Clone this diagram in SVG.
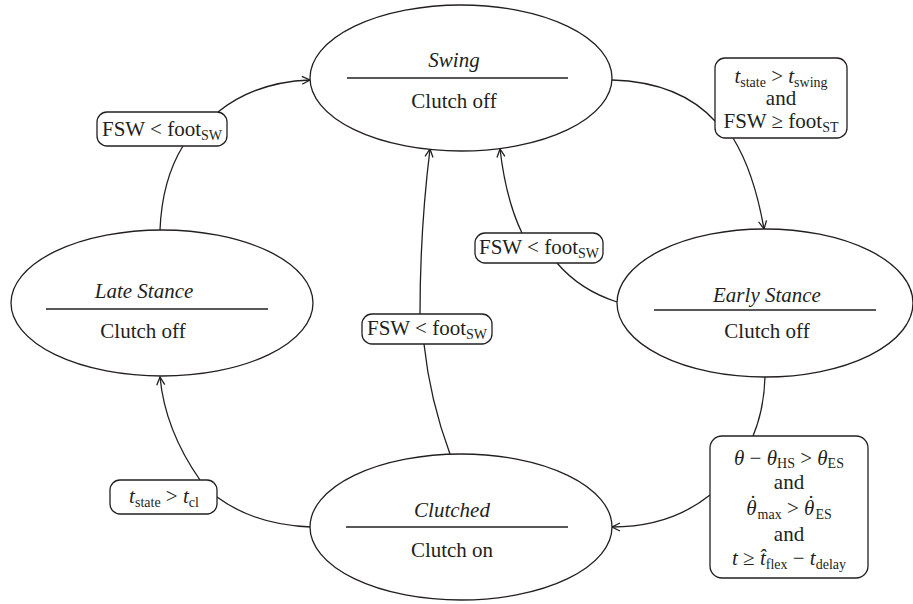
<svg xmlns="http://www.w3.org/2000/svg" width="913" height="604" viewBox="0 0 913 604">
<defs>
<style>
.st{fill:#fff;stroke:#231f20;stroke-width:1.3}
.dv{stroke:#231f20;stroke-width:1.3}
.cn{fill:none;stroke:#231f20;stroke-width:1.3}
.lb{fill:#fff;stroke:#231f20;stroke-width:1.3}
text{font-family:"Liberation Serif","DejaVu Serif",serif;font-size:21px;fill:#231f20}
.it{font-style:italic}
.sb{font-size:14px}
.c{text-anchor:middle}
</style>
<marker id="ar" viewBox="0 0 10 10" refX="9" refY="5" markerWidth="10" markerHeight="10" markerUnits="userSpaceOnUse" orient="auto">
<path d="M1,1 L9,5 L1,9" fill="none" stroke="#231f20" stroke-width="1.3"/>
</marker>
</defs>
<rect width="913" height="604" fill="#fff"/>
<g id="connectors">
<path class="cn" d="M160,230 Q162,180 183,146"/>
<path class="cn" d="M218,112 Q255,82 310,80" marker-end="url(#ar)"/>
<path class="cn" d="M612,80 Q680,82 716,122"/>
<path class="cn" d="M733,138 Q754,172 764,229" marker-end="url(#ar)"/>
<path class="cn" d="M617,302 Q580,290 557,263"/>
<path class="cn" d="M522,233 Q506,200 500,149" marker-end="url(#ar)"/>
<path class="cn" d="M765,377 Q764,410 753,436"/>
<path class="cn" d="M710,495 Q670,527 612,527" marker-end="url(#ar)"/>
<path class="cn" d="M450,454 Q430,400 424,344"/>
<path class="cn" d="M420,314 Q420,230 430,149" marker-end="url(#ar)"/>
<path class="cn" d="M311,527 Q255,525 217,497"/>
<path class="cn" d="M200,480 Q165,430 160,377" marker-end="url(#ar)"/>
</g>
<g id="swing">
<ellipse class="st" cx="461" cy="78" rx="151" ry="73"/>
<line class="dv" x1="347" y1="78" x2="568" y2="78"/>
<text class="c it" x="454" y="67">Swing</text>
<text class="c" x="454" y="108">Clutch off</text>
</g>
<g id="late-stance">
<ellipse class="st" cx="162" cy="303" rx="151" ry="73"/>
<line class="dv" x1="46" y1="309" x2="268" y2="309"/>
<text class="c it" x="144" y="298">Late Stance</text>
<text class="c" x="143" y="338">Clutch off</text>
</g>
<g id="early-stance">
<ellipse class="st" cx="765" cy="303" rx="148" ry="74"/>
<line class="dv" x1="654" y1="310" x2="876" y2="310"/>
<text class="c it" x="767" y="302">Early Stance</text>
<text class="c" x="767" y="338">Clutch off</text>
</g>
<g id="clutched">
<ellipse class="st" cx="461" cy="527" rx="151" ry="73"/>
<line class="dv" x1="346" y1="527" x2="568" y2="527"/>
<text class="c it" x="452" y="517">Clutched</text>
<text class="c" x="452" y="557">Clutch on</text>
</g>
<g id="label-swing-from-late">
<rect class="lb" x="97" y="112" width="130" height="34" rx="10"/>
<text class="c" x="162" y="136">FSW &lt; foot<tspan class="sb" dy="4">SW</tspan></text>
</g>
<g id="label-swing-to-early">
<rect class="lb" x="715" y="58" width="132" height="80" rx="10"/>
<text class="c" x="781" y="83"><tspan class="it">t</tspan><tspan class="sb" dy="4">state</tspan><tspan dy="-4"> &gt; </tspan><tspan class="it">t</tspan><tspan class="sb" dy="4">swing</tspan></text>
<text class="c" x="781" y="105">and</text>
<text class="c" x="781" y="128">FSW ≥ foot<tspan class="sb" dy="4">ST</tspan></text>
</g>
<g id="label-early-to-swing">
<rect class="lb" x="475" y="233" width="128" height="30" rx="10"/>
<text class="c" x="539" y="254">FSW &lt; foot<tspan class="sb" dy="4">SW</tspan></text>
</g>
<g id="label-clutched-to-swing">
<rect class="lb" x="362" y="314" width="130" height="30" rx="10"/>
<text class="c" x="427" y="335">FSW &lt; foot<tspan class="sb" dy="4">SW</tspan></text>
</g>
<g id="label-clutched-to-late">
<rect class="lb" x="110" y="480" width="107" height="34" rx="10"/>
<text class="c" x="164" y="503"><tspan class="it">t</tspan><tspan class="sb" dy="4">state</tspan><tspan dy="-4"> &gt; </tspan><tspan class="it">t</tspan><tspan class="sb" dy="4">cl</tspan></text>
</g>
<g id="label-early-to-clutched">
<rect class="lb" x="710" y="436" width="158" height="142" rx="12"/>
<text class="c" x="789" y="465"><tspan class="it">θ</tspan> − <tspan class="it">θ</tspan><tspan class="sb" dy="3">HS</tspan><tspan dy="-3"> &gt; </tspan><tspan class="it">θ</tspan><tspan class="sb" dy="3">ES</tspan></text>
<text class="c" x="789" y="489">and</text>
<text class="c" x="789" y="515"><tspan class="it">θ</tspan><tspan dx="-7" dy="-5">˙</tspan><tspan class="sb" dx="1" dy="9">max</tspan><tspan dy="-4"> &gt; </tspan><tspan class="it">θ</tspan><tspan dx="-7" dy="-5">˙</tspan><tspan class="sb" dx="1" dy="9">ES</tspan></text>
<text class="c" x="789" y="541">and</text>
<text class="c" x="789" y="565"><tspan class="it">t</tspan> ≥ <tspan class="it">t̂</tspan><tspan class="sb" dy="4">flex</tspan><tspan dy="-4"> − </tspan><tspan class="it">t</tspan><tspan class="sb" dy="4">delay</tspan></text>
</g>
</svg>
